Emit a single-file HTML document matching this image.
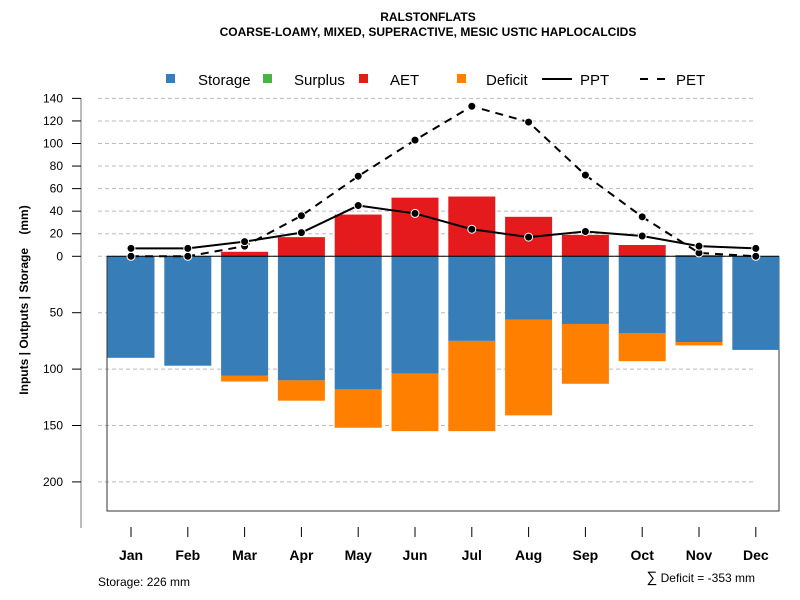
<!DOCTYPE html>
<html><head><meta charset="utf-8"><style>body{margin:0;background:#fff}svg{display:block;font-family:"Liberation Sans",sans-serif}</style></head>
<body>
<svg id="chart" width="800" height="600">
<text x="428" y="21" text-anchor="middle" font-weight="bold" font-size="12">RALSTONFLATS</text>
<text x="428" y="36" text-anchor="middle" font-weight="bold" font-size="12">COARSE-LOAMY, MIXED, SUPERACTIVE, MESIC USTIC HAPLOCALCIDS</text>
<g font-size="15">
<g><rect x="166" y="74" width="9" height="9" fill="#377eb8"/><text x="198" y="85">Storage</text></g>
<g><rect x="263" y="74" width="9" height="9" fill="#4daf4a"/><text x="294" y="85">Surplus</text></g>
<g><rect x="359" y="74" width="9" height="9" fill="#e41a1c"/><text x="390" y="85">AET</text></g>
<g><rect x="457" y="74" width="9" height="9" fill="#ff7f00"/><text x="486" y="85">Deficit</text></g>
<g><line x1="542" y1="79" x2="572" y2="79" stroke="#000" stroke-width="2"/><text x="580" y="85">PPT</text></g>
<g><line x1="640" y1="79" x2="665" y2="79" stroke="#000" stroke-width="2" stroke-dasharray="8,9"/><text x="676" y="85">PET</text></g>
</g>
<text transform="translate(28,300) rotate(-90)" text-anchor="middle" font-weight="bold" font-size="12" xml:space="preserve">Inputs | Outputs | Storage    (mm)</text>
<g id="plot"></g>
<text x="98" y="586" font-size="12">Storage: 226 mm</text>
<text x="755" y="582" text-anchor="end" font-size="12"><tspan font-size="15">∑</tspan> Deficit = -353 mm</text>
</svg>
<script>
const months=["Jan","Feb","Mar","Apr","May","Jun","Jul","Aug","Sep","Oct","Nov","Dec"];
const ppt=[7,7,13,21,45,38,24,17,22,18,9,7];
const pet=[0,0,9,36,71,103,133,119,72,35,3,0];
const aet=[0,0,4,17,37,52,53,35,19,10,1,0];
const storage=[90,97,106,110,118,104,75,56,60,68,76,83];
const deficit=[0,0,5,18,34,51,80,85,53,25,3,0];
const topTicks=[0,20,40,60,80,100,120,140];
const bottomTicks=[50,100,150,200];
const NS="http://www.w3.org/2000/svg";
const g=document.getElementById('plot');
const y=v=>256.3-v*1.128;
const x=i=>131+i*56.8;
const bw=47;
function mk(t,a,p){const e=document.createElementNS(NS,t);for(const k in a)e.setAttribute(k,a[k]);(p||g).appendChild(e);return e;}
let e=mk('line',{x1:81,y1:98,x2:81,y2:528,stroke:'#777','stroke-width':1});


function ytick(v,lbl){
 const yy=y(v);
 let gl=mk('line',{x1:98,y1:yy,x2:755,y2:yy,stroke:'#bbb','stroke-dasharray':'4,3'});
 
 
 mk('line',{x1:72,y1:yy,x2:81,y2:yy,stroke:'#000'});
 let t=mk('text',{x:63,y:yy+4,'text-anchor':'end','font-size':12});
 t.textContent=lbl;
 
 
}
topTicks.forEach(v=>ytick(v,v));
bottomTicks.forEach(v=>ytick(-v,v));
e=mk('polyline',{points:`107,${y(0)} 107,511 779,511 779,${y(0)}`,fill:'none',stroke:'#333'});


months.forEach((m,i)=>{
 let r=mk('rect',{x:x(i)-bw/2,y:y(0),width:bw,height:storage[i]*1.128,fill:'#377eb8'});
 
 
 if(deficit[i]>0){r=mk('rect',{x:x(i)-bw/2,y:y(-storage[i]),width:bw,height:deficit[i]*1.128,fill:'#ff7f00'});
 
 }
 if(aet[i]>0){r=mk('rect',{x:x(i)-bw/2,y:y(aet[i]),width:bw,height:aet[i]*1.128,fill:'#e41a1c'});
 
 }
 mk('line',{x1:x(i),y1:527,x2:x(i),y2:537,stroke:'#000'});
 let t=mk('text',{x:x(i),y:560,'text-anchor':'middle','font-size':14,'font-weight':'bold'});
 t.textContent=m;
 
 
});
e=mk('line',{x1:107,y1:y(0),x2:779,y2:y(0),stroke:'#000'});


function series(arr,name,dash){
 let p=mk('polyline',{points:arr.map((v,i)=>x(i)+','+y(v)).join(' '),fill:'none',stroke:'#000','stroke-width':2,'stroke-dasharray':dash});
 
 
 arr.forEach((v,i)=>{let c=mk('circle',{cx:x(i),cy:y(v),r:4,fill:'#000',stroke:'#fff','stroke-width':1});
 
 });
}
series(pet,'pet','8,6');
series(ppt,'ppt','none');
</script>
</body></html>
